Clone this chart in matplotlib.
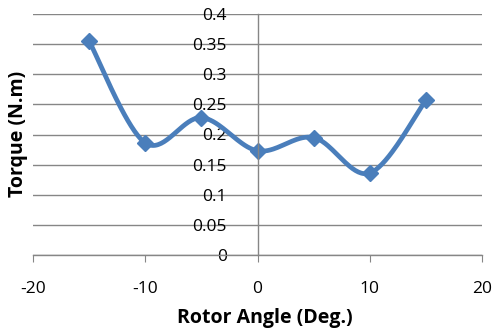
import matplotlib.pyplot as plt, numpy as np

angle = [-15, -10, -5, 0, 5, 10, 15]
torque = [0.355, 0.186, 0.228, 0.173, 0.195, 0.136, 0.257]
x_ticks = [-20, -10, 0, 10, 20]
y_ticks = [0, 0.05, 0.1, 0.15, 0.2, 0.25, 0.3, 0.35, 0.4]

def smoothCurve(xs, ys, n=40):
    # Bezier segments with Catmull-Rom style control points (Excel smoothed line)
    pts = np.column_stack([xs, ys]).astype(float)
    out = []
    for i in range(len(pts) - 1):
        p0 = pts[i - 1] if i > 0 else pts[i]
        p1, p2 = pts[i], pts[i + 1]
        p3 = pts[i + 2] if i + 2 < len(pts) else pts[i + 1]
        c1 = p1 + (p2 - p0) / 6
        c2 = p2 - (p3 - p1) / 6
        t = np.linspace(0, 1, n)[:, None]
        seg = (1-t)**3*p1 + 3*(1-t)**2*t*c1 + 3*(1-t)*t**2*c2 + t**3*p2
        out.append(seg if i == 0 else seg[1:])
    out = np.vstack(out)
    return out[:, 0], out[:, 1]

plt.rcParams['font.family'] = ['Open Sans', 'DejaVu Sans']
fig = plt.figure(figsize=(4.92, 3.30), dpi=100)
ax = fig.add_axes([33/492, 75/330, 449/492, 241/330])

ax.set_xlim(-20, 20)
ax.set_ylim(0, 0.4)
ax.set_xticks(x_ticks)
ax.set_yticks(y_ticks)
ax.set_xticklabels([str(v) for v in x_ticks])
ax.set_yticklabels(['0', '0.05', '0.1', '0.15', '0.2', '0.25', '0.3', '0.35', '0.4'])

grey = '#868686'
ax.grid(axis='y', color=grey, lw=1)
ax.set_axisbelow(True)
for s in ['top', 'right']:
    ax.spines[s].set_visible(False)
ax.spines['left'].set_position(('data', 0))
ax.spines['left'].set_color(grey)
ax.spines['bottom'].set_color(grey)
ax.spines['left'].set_linewidth(1)
ax.spines['bottom'].set_linewidth(1)
ax.tick_params(axis='x', direction='out', length=5, color=grey, labelsize=12.5, pad=14)
ax.tick_params(axis='y', length=0, labelsize=12.5, pad=22)

sx, sy = smoothCurve(angle, torque)
ax.plot(sx, sy, color='#4a7ebb', lw=3.4, solid_capstyle='round', clip_on=False)
ax.plot(angle, torque, ls='none', marker='D', ms=8, color='#4a7ebb', clip_on=False)

fig.text(265/492, 1 - 318/330, 'Rotor Angle (Deg.)', ha='center', va='center',
         fontsize=14, fontweight='bold')
fig.text(18/492, 1 - 134/330, 'Torque (N.m)', ha='center', va='center',
         rotation=90, fontsize=14, fontweight='bold')

fig.savefig('out.png', dpi=100)
